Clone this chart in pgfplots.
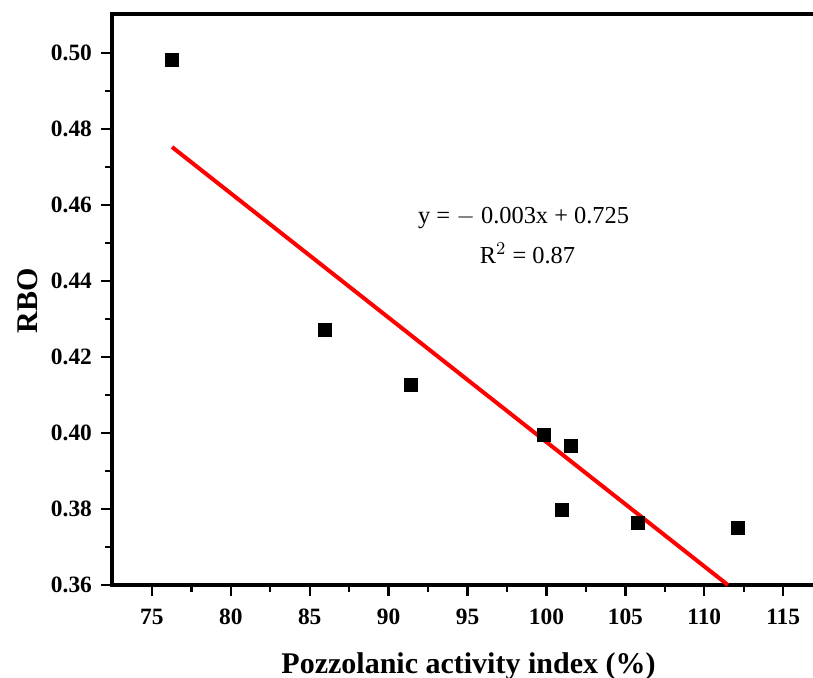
\documentclass[border=0pt]{standalone}
\usepackage{fontspec}
\setmainfont{Liberation Serif}
\usepackage{pgfplots}
\pgfplotsset{compat=1.18}
\begin{document}
\begin{tikzpicture}
\begin{axis}[
  at={(0,0)}, anchor=south west,
  scale only axis,
  width=352pt, height=285.5pt,
  xmin=72.47, xmax=117.08,
  ymin=0.36, ymax=0.5103,
  xtick={75,80,...,115},
  ytick={0.36,0.38,...,0.501},
  minor x tick num=1,
  minor y tick num=1,
  xtick pos=bottom, ytick pos=left,
  tick align=outside,
  major tick length=5.5pt,
  minor tick length=3.5pt,
  every tick/.style={black, line width=1.2pt},
  axis line style={line width=2pt},
  /pgf/number format/assume math mode=true,
  yticklabel style={/pgf/number format/fixed, /pgf/number format/fixed zerofill, /pgf/number format/precision=2, font=\fontsize{11.7}{13}\selectfont\bfseries, xshift=-1pt},
  xticklabel style={font=\fontsize{11.7}{13}\selectfont\bfseries, yshift=-3pt},
  scaled y ticks=false,
  xlabel={Pozzolanic activity index (\%)},
  ylabel={RBO},
  xlabel style={at={(axis description cs:0.5064,0)}, anchor=base, yshift=-44pt},
  ylabel style={at={(axis description cs:-0.1193,0.498)}, anchor=center},
  label style={font=\fontsize{15}{17}\selectfont\bfseries},
  clip=false,
]
\addplot[only marks, mark=square*, mark size=3.2pt, black] coordinates {
  (76.27,0.4982) (85.96,0.4272) (91.41,0.4127) (99.84,0.3996)
  (101.55,0.3966) (100.98,0.3798) (105.80,0.3764) (112.14,0.3751)
};
\addplot[red, line width=2pt] coordinates {(76.27,0.4753) (111.5,0.3600)};
\node[font=\fontsize{12.2}{14}\selectfont, anchor=base] at (axis cs:98.55,0.4551) {y = $-$ 0.003x + 0.725};
\node[font=\fontsize{12.2}{14}\selectfont, anchor=base] at (axis cs:98.8,0.4446) {R$^{2}$ = 0.87};
\end{axis}
\pgfresetboundingbox
\path[use as bounding box] (-56pt,-46pt) rectangle (350.5pt,292.5pt);
\end{tikzpicture}
\end{document}
